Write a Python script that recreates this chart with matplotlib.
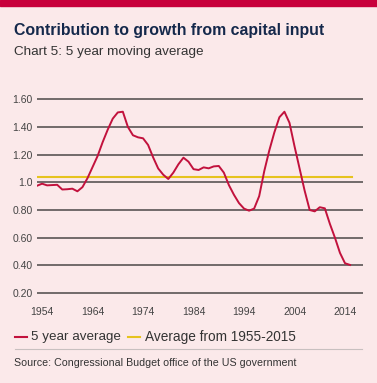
import matplotlib.pyplot as plt
from matplotlib.lines import Line2D

# 5 year moving average of contribution to growth from capital input
years = list(range(1953, 2016))
five_year_avg = [
    0.975, 0.99, 0.978, 0.98, 0.982, 0.948, 0.95, 0.954, 0.935, 0.965,
    1.03, 1.11, 1.19, 1.29, 1.38, 1.46, 1.505, 1.51, 1.40, 1.34,
    1.325, 1.318, 1.27, 1.18, 1.10, 1.055, 1.024, 1.07, 1.13, 1.178,
    1.149, 1.095, 1.089, 1.108, 1.101, 1.115, 1.118, 1.07, 0.98, 0.91,
    0.85, 0.81, 0.795, 0.81, 0.90, 1.08, 1.23, 1.36, 1.47, 1.51,
    1.43, 1.26, 1.10, 0.94, 0.80, 0.79, 0.82, 0.812, 0.70, 0.60,
    0.49, 0.415, 0.403,
]
long_run_avg = 1.035

x_ticks = [1954, 1964, 1974, 1984, 1994, 2004, 2014]
y_ticks = [0.20, 0.40, 0.60, 0.80, 1.0, 1.20, 1.40, 1.60]
y_labels = ['0.20', '0.40', '0.60', '0.80', '1.0', '1.20', '1.40', '1.60']

bg = '#fbe9ea'
red = '#c2123d'
yellow = '#e6c31e'
navy = '#14284b'

plt.rcParams['font.family'] = ['Liberation Sans', 'DejaVu Sans']

fig = plt.figure(figsize=(3.77, 3.83), dpi=100, facecolor=bg)

# red band at the top
fig.patches.append(plt.Rectangle((0, 1 - 6 / 383), 1, 6 / 383, transform=fig.transFigure,
                                 color='#c8003c', zorder=0))

fig.text(14 / 377, 1 - 30 / 383, 'Contribution to growth from capital input',
         fontsize=11.4, fontweight='bold', color=navy, va='center')
fig.text(14 / 377, 1 - 52 / 383, 'Chart 5: 5 year moving average',
         fontsize=9.7, color='#333333', va='center')

ax = fig.add_axes([37 / 377, 1 - 295.8 / 383, 326 / 377, (295.8 - 96.5) / 383])
ax.set_facecolor(bg)
ax.set_xlim(1953, 2017.56)
ax.set_ylim(0.18, 1.62)
for s in ax.spines.values():
    s.set_visible(False)

ax.set_yticks(y_ticks)
ax.set_yticklabels(y_labels)
ax.set_xticks(x_ticks)
ax.tick_params(axis='both', length=0, labelsize=7.5, labelcolor='#444444')
ax.tick_params(axis='y', pad=3)
ax.tick_params(axis='x', pad=8)
ax.grid(axis='y', color='#5a5555', linewidth=1.2)
ax.set_axisbelow(True)

ax.plot([years[0], years[-1] + 0.4], [long_run_avg, long_run_avg], color=yellow, lw=1.5)
ax.plot(years, five_year_avg, color=red, lw=1.4)

# legend row
ly = 1 - 337 / 383
fig.add_artist(Line2D([15 / 377, 27 / 377], [ly, ly], color=red, lw=1.5))
fig.text(31 / 377, ly, '5 year average', fontsize=9.6, color='#333333', va='center')
fig.add_artist(Line2D([128 / 377, 140 / 377], [ly, ly], color=yellow, lw=1.5))
fig.text(145 / 377, ly, 'Average from 1955-2015', fontsize=9.8, color='#333333', va='center')
fig.add_artist(Line2D([15 / 377, 362 / 377], [1 - 349 / 383, 1 - 349 / 383],
                      color='#c8c0c0', lw=0.8))

fig.text(14 / 377, 1 - 363 / 383, 'Source: Congressional Budget office of the US government',
         fontsize=7.7, color='#333333', va='center')

fig.savefig('out.png', dpi=100, facecolor=bg)
